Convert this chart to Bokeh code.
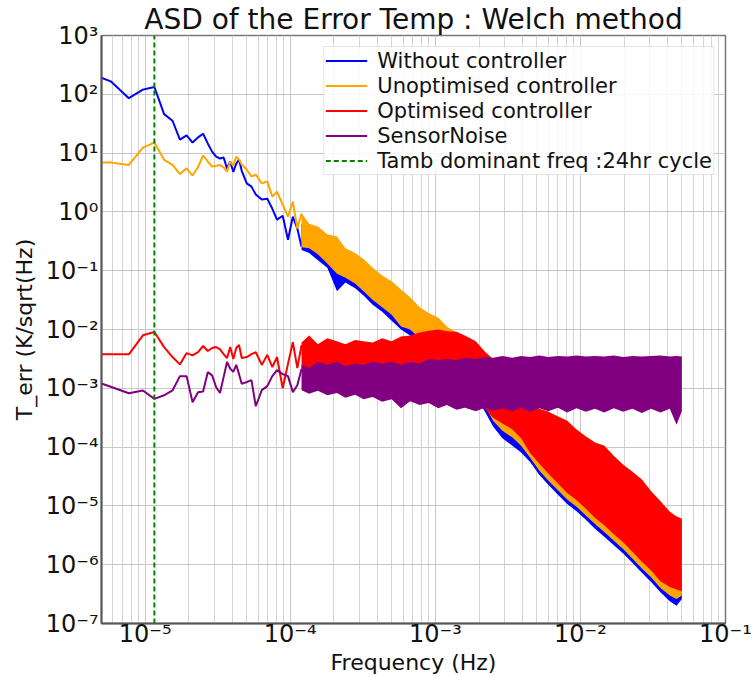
from bokeh.plotting import figure
from bokeh.models import (Range1d, FixedTicker, CustomJSTickFormatter, Legend,
                          LegendItem)
from bokeh.embed import file_html
from bokeh.resources import INLINE

# ---------------- data ----------------
# Welch frequency bins (low-frequency part, drawn as lines)
freq_line = [3.858e-6, 5.787e-6, 7.716e-6, 9.645e-6, 1.1574e-5, 1.3503e-5,
             1.5432e-5, 1.7361e-5, 1.9290e-5, 2.1219e-5, 2.3148e-5, 2.5077e-5,
             2.7006e-5, 2.8935e-5, 3.0864e-5, 3.2793e-5, 3.4722e-5, 3.6651e-5,
             3.8580e-5, 4.0509e-5, 4.2438e-5, 4.4367e-5, 4.6296e-5, 5.0154e-5,
             5.4012e-5, 5.7870e-5, 6.3657e-5, 6.9444e-5, 7.5231e-5, 8.1018e-5,
             8.8734e-5, 9.6451e-5, 1.0417e-4, 1.1188e-4, 1.1960e-4]

without_line = [245, 166, 86, 120, 133, 46, 35.5, 16.9, 20, 15.1, 18.5, 21.3,
                14.6, 10.6, 8.7, 8.1, 8.4, 5.5, 7.2, 4.8, 6.6, 7.8, 5.0,
                3.06, 2.69, 1.97, 1.62, 1.68, 1.13, 0.74, 0.86, 0.336, 0.83,
                0.52, 0.255]
unopt_line = [7.0, 6.9, 6.3, 12.4, 15.1, 7.7, 6.3, 4.4, 5.5, 4.15, 5.8, 9.1,
              7.2, 5.9, 6.1, 6.3, 5.7, 4.85, 7.2, 6.1, 8.7, 7.8, 6.4,
              5.2, 4.0, 4.3, 3.06, 3.3, 1.82, 2.2, 1.33, 0.83, 1.49, 0.52, 0.94]
opt_line = [3.78e-3, 3.78e-3, 3.78e-3, 7.96e-3, 9.06e-3, 5.02e-3, 3.40e-3,
            2.55e-3, 3.97e-3, 3.63e-3, 4.13e-3, 5.24e-3, 4.30e-3, 4.84e-3,
            5.02e-3, 4.59e-3, 3.82e-3, 3.27e-3, 5.02e-3, 3.14e-3, 4.84e-3,
            5.44e-3, 3.27e-3,
            3.4e-3, 3.8e-3, 4.1e-3, 2.5e-3, 3.7e-3, 2.3e-3, 3.4e-3, 1.0e-3,
            2.6e-3, 6.1e-3, 2.2e-3, 5.4e-3]
sensor_line = [1.52e-3, 1.06e-3, 8.26e-4, 9.18e-4, 6.6e-4, 7.6e-4, 9.2e-4,
               1.61e-3, 1.61e-3, 5.8e-4, 8.6e-4, 8.8e-4, 1.88e-3, 1.66e-3,
               1.04e-3, 8.3e-4, 1.55e-3, 2.8e-3, 2.15e-3, 1.9e-3, 2.5e-3,
               1.74e-3, 1.19e-3,
               1.28e-3, 1.38e-3, 4.95e-4, 9.3e-4, 1.09e-3, 1.61e-3, 2.04e-3,
               1.74e-3, 1.61e-3, 8.6e-4, 1.13e-3, 2.12e-3]

# High-frequency part: dense noise, read as lower / upper envelopes
freq_band = [1.196e-4, 1.35e-4, 1.55e-4, 1.8e-4, 2.1e-4, 2.4e-4, 2.8e-4,
             3.2e-4, 3.7e-4, 4.3e-4, 5.0e-4, 5.8e-4, 6.7e-4, 7.8e-4, 9.0e-4,
             1.05e-3, 1.2e-3, 1.4e-3, 1.6e-3, 1.9e-3, 2.2e-3, 2.5e-3, 2.9e-3,
             3.4e-3, 3.9e-3, 4.5e-3, 5.2e-3, 6.0e-3, 7.0e-3, 8.1e-3, 9.4e-3,
             1.09e-2, 1.26e-2, 1.46e-2, 1.7e-2, 1.97e-2, 2.28e-2, 2.65e-2,
             3.07e-2, 3.56e-2, 4.13e-2, 4.6e-2, 5.0e-2]

without_upper = [0.631, 0.501, 0.398, 0.316, 0.251, 0.191, 0.151, 0.126,
                 0.0891, 0.0708, 0.0562, 0.0398, 0.0316, 0.0224, 0.0178,
                 0.0141, 0.0105, 7.94e-3, 6.31e-3, 4.47e-3, 3.16e-3, 2.24e-3,
                 1.58e-3, 1.12e-3, 7.94e-4, 5.62e-4, 4.17e-4, 3.80e-4,
                 3.16e-4, 2.63e-4, 1.91e-4, 1.45e-4, 1.15e-4, 1.00e-4,
                 6.76e-5, 4.79e-5, 3.63e-5, 2.69e-5, 1.70e-5, 1.15e-5,
                 7.59e-6, 6.31e-6, 5.75e-6]
without_lower = [0.224, 0.200, 0.151, 0.112, 0.0447, 0.0631, 0.0501, 0.0380,
                 0.0263, 0.0200, 0.0141, 0.0100, 7.94e-3, 5.62e-3, 4.47e-3,
                 3.16e-3, 2.51e-3, 1.58e-3, 1.12e-3, 7.08e-4, 3.98e-4,
                 2.24e-4, 1.41e-4, 1.05e-4, 8.1e-5, 5.6e-5, 3.4e-5, 2.3e-5,
                 1.55e-5, 1.08e-5, 8.1e-6, 5.8e-6, 4.1e-6, 3.0e-6, 2.15e-6,
                 1.55e-6, 1.08e-6, 7.3e-7, 5.1e-7, 3.4e-7, 2.4e-7, 2.0e-7,
                 2.6e-7]

unopt_upper = [0.955, 0.631, 0.562, 0.417, 0.380, 0.240, 0.200, 0.158, 0.112,
               0.0832, 0.0661, 0.0479, 0.0355, 0.0240, 0.0191, 0.0158,
               0.0112, 8.91e-3, 7.08e-3, 5.01e-3, 3.55e-3, 2.51e-3, 1.78e-3,
               1.26e-3, 8.91e-4, 6.31e-4, 4.47e-4, 3.98e-4, 3.31e-4,
               2.82e-4, 2.00e-4, 1.51e-4, 1.20e-4, 1.05e-4, 7.08e-5,
               5.01e-5, 3.80e-5, 2.82e-5, 1.78e-5, 1.20e-5, 7.94e-6,
               6.61e-6, 6.03e-6]
unopt_lower = [0.251, 0.240, 0.191, 0.132, 0.0891, 0.0759, 0.0603, 0.0447,
               0.0316, 0.0240, 0.0178, 0.0112, 0.0100, 7.08e-3, 5.01e-3,
               3.55e-3, 2.82e-3, 2.00e-3, 1.41e-3, 8.91e-4, 5.01e-4,
               2.82e-4, 1.90e-4, 1.45e-4, 1.05e-4, 6.6e-5, 4.0e-5, 2.7e-5,
               1.85e-5, 1.28e-5, 9.7e-6, 6.9e-6, 4.9e-6, 3.6e-6, 2.55e-6,
               1.85e-6, 1.28e-6, 8.6e-7, 6.1e-7, 4.0e-7, 3.0e-7, 2.6e-7,
               3.0e-7]

opt_upper = [6.03e-3, 7.94e-3, 5.62e-3, 7.08e-3, 6.31e-3, 5.62e-3, 6.61e-3,
             6.31e-3, 6.03e-3, 7.08e-3, 6.31e-3, 7.59e-3, 7.94e-3, 8.91e-3,
             9.55e-3, 1.00e-2, 9.33e-3, 9.12e-3, 7.94e-3, 6.31e-3, 4.17e-3,
             3.16e-3, 2.40e-3, 1.41e-3, 8.91e-4, 5.62e-4, 4.47e-4, 3.98e-4,
             3.31e-4, 2.82e-4, 2.00e-4, 1.51e-4, 1.20e-4, 1.05e-4, 7.08e-5,
             5.01e-5, 3.80e-5, 2.82e-5, 1.78e-5, 1.20e-5, 7.94e-6, 6.61e-6,
             6.03e-6]
opt_lower = [2.00e-3, 1.78e-3, 2.00e-3, 1.58e-3, 1.91e-3, 1.00e-3, 1.78e-3,
             1.58e-3, 1.41e-3, 1.12e-3, 1.26e-3, 1.12e-3, 1.26e-3, 1.41e-3,
             1.58e-3, 1.51e-3, 1.41e-3, 1.26e-3, 1.00e-3, 7.08e-4, 4.47e-4,
             3.16e-4, 2.51e-4, 2.00e-4, 1.41e-4, 7.94e-5, 5.25e-5, 3.55e-5,
             2.40e-5, 1.66e-5, 1.26e-5, 8.91e-6, 6.31e-6, 4.68e-6, 3.31e-6,
             2.40e-6, 1.66e-6, 1.12e-6, 7.94e-7, 5.25e-7, 4.17e-7, 3.80e-7,
             3.55e-7]

sensor_upper = [2.51e-3, 2.24e-3, 2.82e-3, 2.51e-3, 2.82e-3, 2.40e-3,
                2.63e-3, 2.51e-3, 2.82e-3, 2.63e-3, 2.82e-3, 2.51e-3,
                2.82e-3, 2.63e-3, 3.16e-3, 3.02e-3, 3.16e-3, 3.02e-3,
                3.31e-3, 3.16e-3, 3.39e-3, 3.31e-3, 3.55e-3, 3.31e-3,
                3.55e-3, 3.39e-3, 3.63e-3, 3.39e-3, 3.55e-3, 3.47e-3,
                3.63e-3, 3.47e-3, 3.55e-3, 3.47e-3, 3.63e-3, 3.39e-3,
                3.55e-3, 3.47e-3, 3.55e-3, 3.63e-3, 3.47e-3, 3.55e-3,
                3.47e-3]
sensor_lower = [9.3e-4, 8.1e-4, 9.1e-4, 7.6e-4, 8.3e-4, 6.9e-4,
                7.8e-4, 6.5e-4, 7.1e-4, 5.9e-4, 6.5e-4, 4.6e-4,
                6.0e-4, 5.2e-4, 5.6e-4, 4.6e-4, 5.2e-4, 4.3e-4,
                4.68e-4, 4.07e-4, 4.68e-4, 4.17e-4, 4.57e-4, 4.07e-4,
                4.68e-4, 3.98e-4, 4.57e-4, 4.07e-4, 4.68e-4, 3.89e-4,
                4.57e-4, 3.98e-4, 4.47e-4, 3.89e-4, 4.57e-4, 3.98e-4,
                4.47e-4, 3.80e-4, 4.47e-4, 3.89e-4, 4.47e-4, 2.4e-4,
                4.07e-4]

tamb_freq = 1.1574e-5   # 1 / (24 h)

x_ticks = [1e-5, 1e-4, 1e-3, 1e-2, 1e-1]
y_ticks = [1e-7, 1e-6, 1e-5, 1e-4, 1e-3, 1e-2, 1e-1, 1e0, 1e1, 1e2, 1e3]
x_lim = (5e-6, 1e-1)
y_lim = (1e-7, 1e3)

labels = ["Without controller", "Unoptimised controller",
          "Optimised controller", "SensorNoise",
          "Tamb dominant freq :24hr cycle"]
colors = ["#0000ff", "#ffa500", "#ff0000", "#800080", "#008000"]

FONT = "DejaVu Sans"

# ---------------- figure ----------------
p = figure(width=753, height=677, x_axis_type="log", y_axis_type="log",
           x_range=Range1d(*x_lim), y_range=Range1d(*y_lim),
           output_backend="svg", toolbar_location=None,
           min_border_left=101, min_border_right=28,
           min_border_top=34, min_border_bottom=10)

p.title.text = "ASD of the Error Temp : Welch method"
p.title.text_font = FONT
p.title.text_font_size = "28px"
p.title.text_font_style = "normal"
p.title.text_color = "#111111"
p.title.align = "center"
p.title.standoff = 0

series = [
    (without_line, without_lower, without_upper, colors[0]),
    (unopt_line, unopt_lower, unopt_upper, colors[1]),
    (opt_line, opt_lower, opt_upper, colors[2]),
    (sensor_line, sensor_lower, sensor_upper, colors[3]),
]

line_renderers = []
for vals, lo, hi, col in series:
    r = p.line(freq_line, vals, line_color=col, line_width=2)
    p.varea(x=freq_band, y1=lo, y2=hi, fill_color=col, fill_alpha=1.0)
    line_renderers.append(r)

r_tamb = p.line([tamb_freq, tamb_freq], list(y_lim), line_color=colors[4],
                line_width=2, line_dash="5 3")
line_renderers.append(r_tamb)

legend = Legend(items=[LegendItem(label=l, renderers=[r])
                       for l, r in zip(labels, line_renderers)],
                location="top_right")
legend.label_text_font = FONT
legend.label_text_font_size = "21px"
legend.label_text_color = "#111111"
legend.glyph_width = 42
legend.glyph_height = 25
legend.label_height = 25
legend.label_standoff = 10
legend.spacing = 0
legend.padding = 1
legend.margin = 11
legend.border_line_color = "#cccccc"
legend.background_fill_alpha = 0.85
p.add_layout(legend)

# ticks / grid
minor_x = [m * 10.0 ** e for e in range(-6, -1) for m in range(2, 10)]
p.xaxis.ticker = FixedTicker(ticks=x_ticks, minor_ticks=minor_x)
p.yaxis.ticker = FixedTicker(ticks=y_ticks)
fmt_code = """
const sup = {'-':'\\u207b','0':'\\u2070','1':'\\u00b9','2':'\\u00b2','3':'\\u00b3',
             '4':'\\u2074','5':'\\u2075','6':'\\u2076','7':'\\u2077','8':'\\u2078','9':'\\u2079'};
const e = Math.round(Math.log10(tick));
return '10' + String(e).split('').map(c => sup[c]).join('');
"""
p.xaxis.formatter = CustomJSTickFormatter(code=fmt_code)
p.yaxis.formatter = CustomJSTickFormatter(code=fmt_code)

for ax in (p.xaxis, p.yaxis):
    ax.major_label_text_font = FONT
    ax.major_label_text_font_size = "24px"
    ax.major_label_text_color = "#111111"
    ax.axis_label_text_font = FONT
    ax.axis_label_text_font_size = "22px"
    ax.axis_label_text_font_style = "normal"
    ax.axis_label_text_color = "#111111"
    ax.axis_line_color = "#555555"
    ax.axis_line_width = 2
    ax.major_tick_in = 0
    ax.major_tick_out = 0
    ax.minor_tick_in = 0
    ax.minor_tick_out = 0

p.xaxis.major_label_standoff = -4
p.yaxis.major_label_standoff = 3
p.xaxis.axis_label = "Frequency (Hz)"
p.yaxis.axis_label = "T_err (K/sqrt(Hz)"
p.xaxis.axis_label_standoff = -1
p.yaxis.axis_label_standoff = 6

p.xgrid.grid_line_color = "#c8c8c8"
p.xgrid.minor_grid_line_color = "#d4d4d4"
p.ygrid.grid_line_color = "#c8c8c8"
p.outline_line_color = "#777777"
p.outline_line_width = 1.5

open("out.html", "w").write(file_html(p, INLINE))
